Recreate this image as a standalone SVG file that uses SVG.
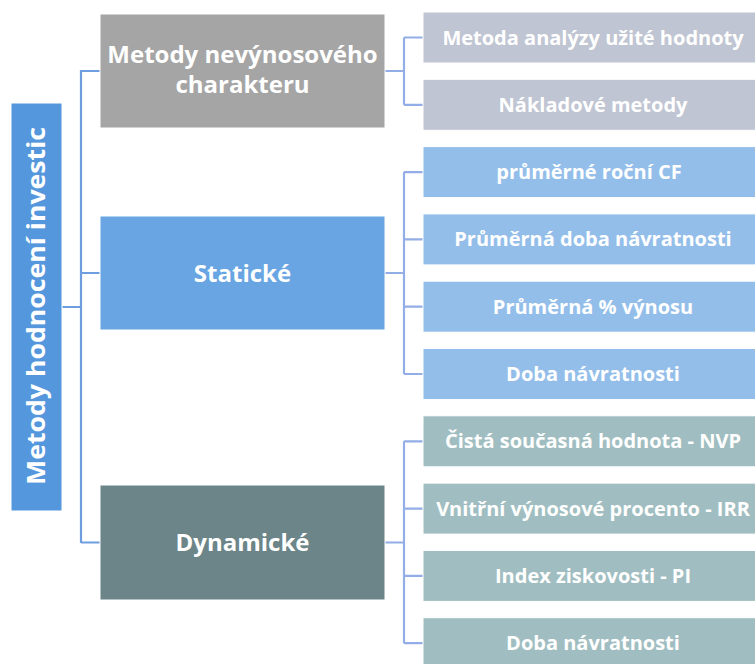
<svg xmlns="http://www.w3.org/2000/svg" width="755" height="664" viewBox="0 0 755 664">
<style>
  .t { font-family: "Open Sans", Lato, "Liberation Sans", sans-serif; font-weight: bold; fill: #ffffff; text-anchor: middle; }
  .leaf { font-size: 20px; }
  .mid { font-size: 24px; }
  .root { font-size: 25px; }
  .box { stroke: #ffffff; stroke-width: 1; }
  .cl { fill: none; stroke: #6E9DE0; stroke-width: 2.2; }
  .cr { fill: none; stroke: #93ADE6; stroke-width: 2.2; }
</style>
<rect width="755" height="664" fill="#ffffff"/>
<g id="connectors">
  <path class="cl" d="M62 307 H81 M81 70 V543 M81 71 H100 M81 273 H100 M81 542.5 H100"/>
  <path class="cr" d="M385 71 H404 M404 37.5 V104.8 M404 37.5 H423 M404 104.8 H423"/>
  <path class="cr" d="M385 273 H404 M404 172.1 V374 M404 172.1 H423 M404 239.4 H423 M404 306.7 H423 M404 374 H423"/>
  <path class="cr" d="M385 542.5 H404 M404 441.3 V643.2 M404 441.3 H423 M404 508.6 H423 M404 575.9 H423 M404 643.2 H423"/>
</g>
<g id="root">
  <rect class="box" x="11" y="103" width="51" height="408" fill="#5597DD"/>
  <text class="t root" transform="translate(44.5 306) rotate(-90)" textLength="358" lengthAdjust="spacingAndGlyphs">Metody hodnocení investic</text>
</g>
<g id="nevynosove">
  <rect class="box" x="100" y="14" width="285" height="114" fill="#A5A5A5"/>
  <text class="t mid" x="242.5" y="63">Metody nevýnosového</text>
  <text class="t mid" x="242.5" y="93">charakteru</text>
</g>
<g id="staticke">
  <rect class="box" x="100" y="216" width="285" height="114" fill="#68A5E2"/>
  <text class="t mid" x="242.5" y="282">Statické</text>
</g>
<g id="dynamicke">
  <rect class="box" x="100" y="485" width="285" height="115" fill="#6B8588"/>
  <text class="t mid" x="242.5" y="551">Dynamické</text>
</g>
<g id="leaf1">
  <rect class="box" x="423" y="12" width="333" height="51" fill="#BFC5D2"/>
  <text class="t leaf" x="593" y="44.5">Metoda analýzy užité hodnoty</text>
</g>
<g id="leaf2">
  <rect class="box" x="423" y="79.3" width="333" height="51" fill="#BFC5D2"/>
  <text class="t leaf" x="593" y="111.8">Nákladové metody</text>
</g>
<g id="leaf3">
  <rect class="box" x="423" y="146.6" width="333" height="51" fill="#93BEEA"/>
  <text class="t leaf" x="589" y="179.1">průměrné roční CF</text>
</g>
<g id="leaf4">
  <rect class="box" x="423" y="213.9" width="333" height="51" fill="#93BEEA"/>
  <text class="t leaf" x="593" y="246.4">Průměrná doba návratnosti</text>
</g>
<g id="leaf5">
  <rect class="box" x="423" y="281.2" width="333" height="51" fill="#93BEEA"/>
  <text class="t leaf" x="593" y="313.7">Průměrná % výnosu</text>
</g>
<g id="leaf6">
  <rect class="box" x="423" y="348.5" width="333" height="51" fill="#93BEEA"/>
  <text class="t leaf" x="593" y="381">Doba návratnosti</text>
</g>
<g id="leaf7">
  <rect class="box" x="423" y="415.8" width="333" height="51" fill="#A0BEC1"/>
  <text class="t leaf" x="593" y="448.3">Čistá současná hodnota - NVP</text>
</g>
<g id="leaf8">
  <rect class="box" x="423" y="483.1" width="333" height="51" fill="#A0BEC1"/>
  <text class="t leaf" x="593" y="515.6">Vnitřní výnosové procento - IRR</text>
</g>
<g id="leaf9">
  <rect class="box" x="423" y="550.4" width="333" height="51" fill="#A0BEC1"/>
  <text class="t leaf" x="593" y="582.9">Index ziskovosti - PI</text>
</g>
<g id="leaf10">
  <rect class="box" x="423" y="617.7" width="333" height="51" fill="#A0BEC1"/>
  <text class="t leaf" x="593" y="650.2">Doba návratnosti</text>
</g>
</svg>
